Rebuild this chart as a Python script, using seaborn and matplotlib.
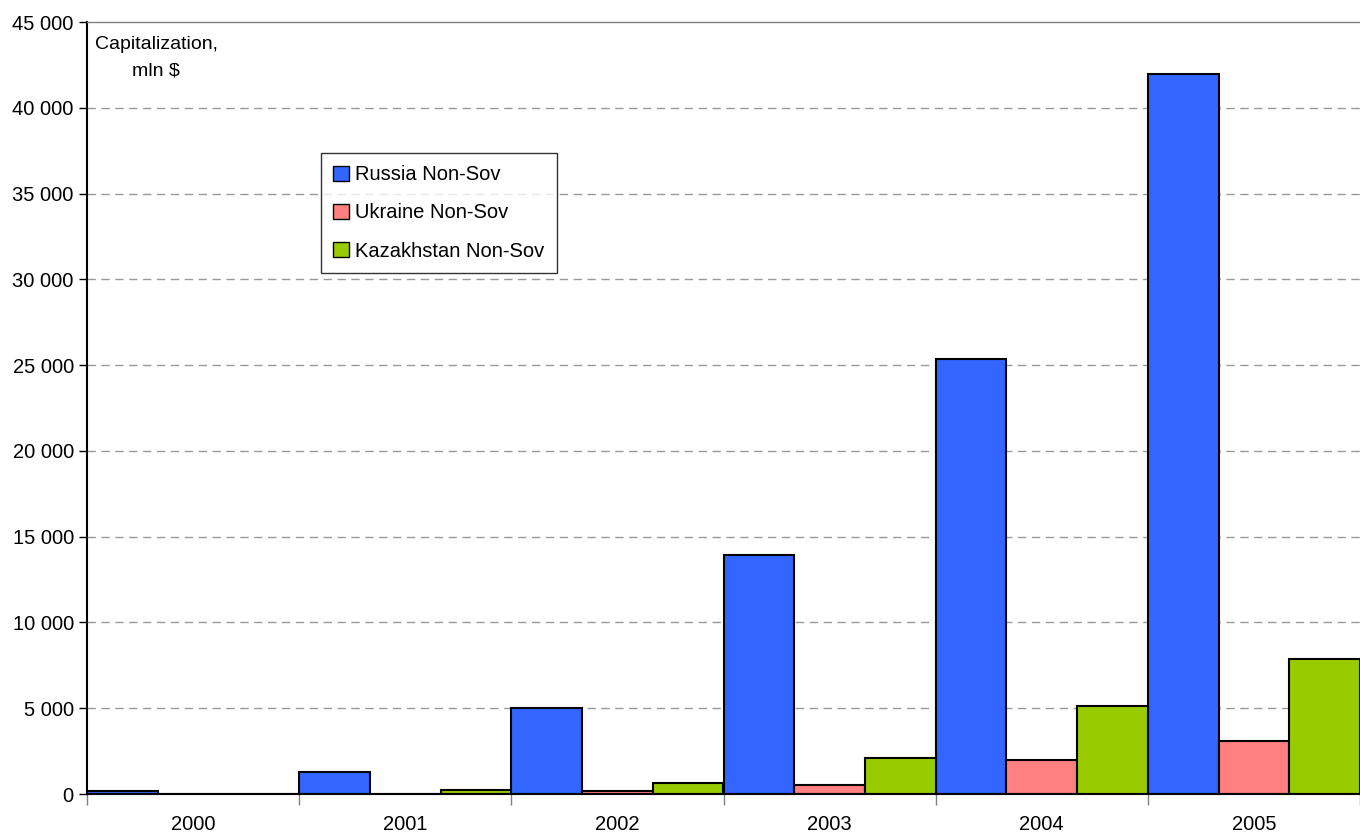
import pandas as pd
import numpy as np
import matplotlib
matplotlib.use('Agg')
import matplotlib.pyplot as plt
import seaborn as sns
from matplotlib.ticker import FuncFormatter, MultipleLocator, FixedLocator

# data (mln $)
years = ['2000', '2001', '2002', '2003', '2004', '2005']
series = ['Russia Non-Sov', 'Ukraine Non-Sov', 'Kazakhstan Non-Sov']
russia = [200, 1280, 5010, 13930, 25350, 41970]
ukraine = [0, 0, 200, 500, 1980, 3070]
kazakhstan = [0, 260, 660, 2100, 5150, 7870]
colors = ['#3366FF', '#FF8080', '#99CC00']

df = pd.DataFrame({
    'year': years * 3,
    'series': [s for s in series for _ in years],
    'value': russia + ukraine + kazakhstan,
})

sns.set_style('white')
plt.rcParams['font.family'] = ['Liberation Sans Narrow', 'Liberation Sans', 'DejaVu Sans']

fig = plt.figure(figsize=(13.6, 8.34), dpi=100)
ax = fig.add_axes([87 / 1360, 40 / 834, 1 - 87 / 1360, 772 / 834])

sns.barplot(data=df, x='year', y='value', hue='series', hue_order=series,
            palette=colors, saturation=1, width=1.0, gap=0, edgecolor='black',
            linewidth=1.5, ax=ax, legend=True)

ax.set_xlim(-0.5, 5.5)
ax.set_ylim(0, 45000)
ax.yaxis.set_major_locator(MultipleLocator(5000))
ax.yaxis.set_major_formatter(FuncFormatter(lambda v, p: f'{int(v):,}'.replace(',', ' ')))
ax.set_xlabel('')
ax.set_ylabel('')

# dashed grid lines
for v in range(5000, 45000, 5000):
    ax.axhline(v, color='#999999', linestyle=(0, (6, 4)), linewidth=1, zorder=0)

# tick marks at category boundaries, labels at centres
ax.xaxis.set_minor_locator(FixedLocator(np.arange(-0.5, 6, 1)))
ax.tick_params(axis='x', which='major', length=0, pad=15, labelsize=14.5, colors='black')
ax.tick_params(axis='x', which='minor', length=8, width=1, color='#808080', bottom=True)
ax.tick_params(axis='y', which='major', length=6, width=1, color='black', left=True,
               labelsize=14.5, labelcolor='black')

for side in ['left', 'bottom']:
    ax.spines[side].set_color('black')
    ax.spines[side].set_linewidth(1.5)
ax.spines['top'].set_color('#808080')
ax.spines['top'].set_linewidth(1)
ax.spines['right'].set_visible(False)

leg = ax.legend(loc='upper left', bbox_to_anchor=(0.184, 0.830), frameon=True,
                fancybox=False, edgecolor='black', fontsize=14.5, handlelength=0.8,
                handleheight=0.8, handletextpad=0.3, labelspacing=0.95,
                borderpad=0.6, borderaxespad=0, title=None)
leg.get_frame().set_linewidth(1)
for t in leg.get_texts():
    t.set_color('black')
for h in leg.legend_handles:
    h.set_edgecolor('black')
    h.set_linewidth(1)

fig.text(156 / 1360, 1 - 58 / 834, 'Capitalization,\nmln $', ha='center', va='center',
         multialignment='center', fontsize=14, linespacing=1.75, color='black')

fig.savefig('out.png', dpi=100)
